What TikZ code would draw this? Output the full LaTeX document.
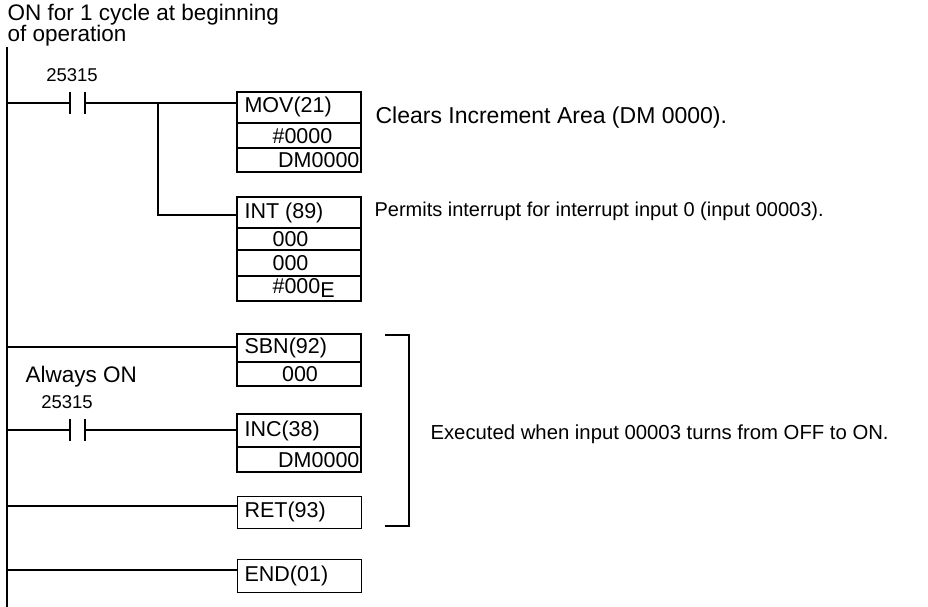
\documentclass[tikz,border=0pt]{standalone}
\usepackage{fontspec}
\setmainfont{Liberation Sans}
\begin{document}
\begin{tikzpicture}[x=1pt,y=-1pt,line width=1.1pt,
  lbl/.style={anchor=west,inner sep=0,font=\fontsize{22.5}{24}\selectfont},
  num/.style={anchor=south,inner sep=0,font=\fontsize{18.5}{20}\selectfont},
  bt/.style={inner sep=0,font=\fontsize{21.5}{23}\selectfont},
  cell/.style={draw,minimum width=124pt,inner sep=0}]
\useasboundingbox (0,0) rectangle (928,607);
\node[lbl] (t1) at (7,15) {ON for 1 cycle at beginning};
\node[lbl] (t2) at (7,36) {of operation};
\coordinate (railtop) at (7,47);
\coordinate (railbot) at (7,607);
\draw (railtop) -- (railbot);
% contacts
\foreach \y/\n in {103/c1,430/c2}{
  \coordinate (\n l) at (70,\y); \coordinate (\n r) at (85,\y);
  \draw (70,\y-11) -- (70,\y+11); \draw (85,\y-11) -- (85,\y+11);
}
\node[num] (n1) at (72,82) {25315};
\node[num] (n2) at (67,409) {25315};
\node[lbl] (aon) at (25,377) {Always ON};
% boxes
\node[cell,anchor=north west,minimum height=31pt] (mov) at (237,92) {};
\draw (237,92) rectangle (361,172);
\node[bt,anchor=west] at (244,107) {MOV(21)};
\draw (237,123) -- (361,123); \draw (237,148) -- (361,148);
\node[bt,anchor=west] at (272,136) {\#0000};
\node[bt,anchor=east] at (360,160) {DM0000};
\node[cell,anchor=north west,minimum height=31pt] (int) at (237,197) {};
\draw (237,197) rectangle (361,301);
\node[bt,anchor=west] at (244,213) {INT (89)};
\draw (237,228) -- (361,228); \draw (237,250) -- (361,250); \draw (237,276) -- (361,276);
\node[bt,anchor=west] at (272,239) {000};
\node[bt,anchor=west] at (272,263) {000};
\node[bt,anchor=west] at (272,288) {\#000\raisebox{-4pt}{E}};
\node[cell,anchor=north west,minimum height=28pt] (sbn) at (237,334) {};
\draw (237,334) rectangle (361,386); \draw (237,362) -- (361,362);
\node[bt,anchor=west] at (244,348) {SBN(92)};
\node[bt] at (300,374) {000};
\node[cell,anchor=north west,minimum height=33pt] (inc) at (237,414) {};
\draw (237,414) rectangle (361,472); \draw (237,447) -- (361,447);
\node[bt,anchor=west] at (244,431) {INC(38)};
\node[bt,anchor=east] at (360,460) {DM0000};
\node[cell,anchor=north west,minimum height=32pt] (ret) at (237,496) {};
\node[bt,anchor=west] at (244,512) {RET(93)};
\node[cell,anchor=north west,minimum height=33pt] (end) at (237,559) {};
\node[bt,anchor=west] at (244,576) {END(01)};
% rungs
\coordinate (br) at (158,103);
\coordinate (brb) at (158,215);
\draw (7,103) -- (c1l); \draw (c1r) -- (br) -- (237,103);
\draw (br) -- (brb) -- (237,215);
\draw (7,347) -- (237,347);
\draw (7,430) -- (c2l); \draw (c2r) -- (237,430);
\draw (7,506) -- (237,506);
\draw (7,570) -- (237,570);
% bracket
\coordinate (b1) at (385,335); \coordinate (b2) at (409,335);
\coordinate (b3) at (409,526); \coordinate (b4) at (385,526);
\draw (b1) -- (b2) -- (b3) -- (b4);
% annotations
\node[lbl,font=\fontsize{23}{24}\selectfont] (a1) at (375,118) {Clears Increment Area (DM 0000).};
\node[lbl,font=\fontsize{20}{22}\selectfont] (a2) at (374,211) {Permits interrupt for interrupt input 0 (input 00003).};
\node[lbl,font=\fontsize{20.3}{22}\selectfont] (a3) at (430,434) {Executed when input 00003 turns from OFF to ON.};
\end{tikzpicture}
\end{document}
